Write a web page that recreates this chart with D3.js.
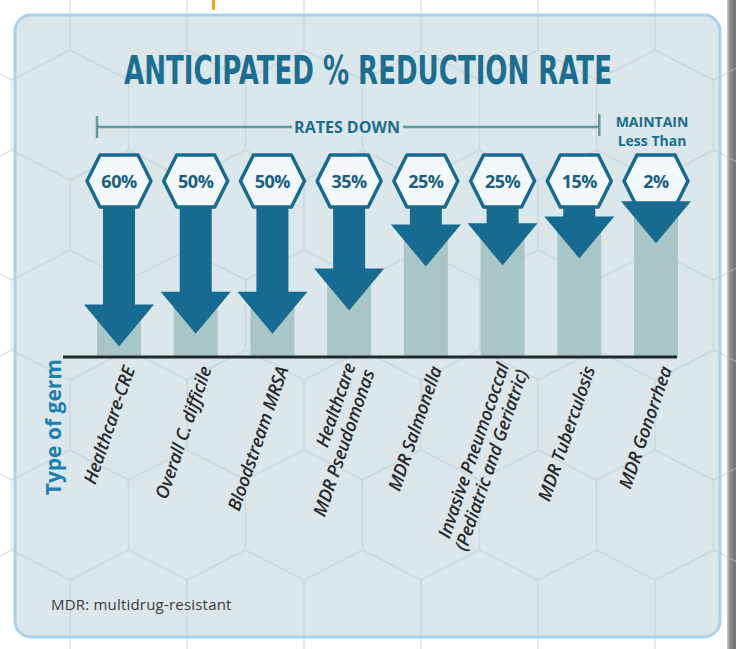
<!DOCTYPE html>
<html>
<head>
<meta charset="utf-8">
<script src="https://cdn.jsdelivr.net/npm/d3@7"></script>
<style>
  html, body { margin: 0; padding: 0; background: #fff; }
  svg { display: block; }
</style>
</head>
<body>
<div id="chart"></div>
<script>
// --- data ---
const germs = [
    "Healthcare-CRE",
    "Overall C. difficile",
    "Bloodstream MRSA",
    "Healthcare|MDR Pseudomonas",
    "MDR Salmonella",
    "Invasive Pneumococcal|(Pediatric and Geriatric)",
    "MDR Tuberculosis",
    "MDR Gonorrhea"
];
const reduction = [60, 50, 50, 35, 25, 25, 15, 2];
// level the arrow tip reaches above the axis (0-100 scale, estimated)
const arrowEnd = [9, 20, 20, 40, 78, 79, 85, 98];
const groupLabels = ["RATES DOWN", "MAINTAIN|Less Than"];
const groupSize = [7, 1];

const width = 736, height = 649;
const baseY = 357;
const hexY = 181;

const blue = "#176b90";

const svg = d3.select("#chart").append("svg")
    .attr("width", width)
    .attr("height", height);

// right edge shadow
const grad = svg.append("defs").append("linearGradient")
    .attr("id", "edge").attr("x1", 0).attr("x2", 1);
grad.append("stop").attr("offset", 0).attr("stop-color", "#d0d0d0");
grad.append("stop").attr("offset", 0.35).attr("stop-color", "#8a8a8a");
grad.append("stop").attr("offset", 1).attr("stop-color", "#707070");
svg.append("rect")
    .attr("x", 727).attr("y", 0)
    .attr("width", 9).attr("height", height)
    .style("fill", "url(#edge)");

// little orange mark at the top
svg.append("rect")
    .attr("x", 212).attr("y", 0)
    .attr("width", 3).attr("height", 10)
    .style("fill", "#f2a81d");

// card
svg.append("rect")
    .attr("x", 15).attr("y", 15)
    .attr("width", 705).attr("height", 622)
    .attr("rx", 16)
    .style("fill", "#dbe7eb")
    .style("stroke", "#a9d1ec")
    .style("stroke-width", 3);

// faint honeycomb behind everything
const hexW = 117, hexS = 70, hexH = 30;
const segs = [];
for (let n = -1; n < 4; n++) {
    const y0 = 80 + 200 * n;
    const y1 = y0 + hexS + hexH;
    for (let k = -1; k < 8; k++) {
        const xa = 11.5 + hexW * k, xb = xa + hexW / 2;
        segs.push([[xa, y0], [xa, y0 + hexS]]);
        segs.push([[xa, y0 + hexS], [xa - hexW / 2, y1]]);
        segs.push([[xa, y0 + hexS], [xa + hexW / 2, y1]]);
        segs.push([[xb, y1], [xb, y1 + hexS]]);
        segs.push([[xb, y1 + hexS], [xb - hexW / 2, y1 + hexS + hexH]]);
        segs.push([[xb, y1 + hexS], [xb + hexW / 2, y1 + hexS + hexH]]);
    }
}
svg.append("g")
    .selectAll("path")
    .data(segs)
    .enter().append("path")
    .attr("d", d => d3.line()(d))
    .style("fill", "none")
    .style("stroke", "#b8cdd6")
    .style("stroke-opacity", 0.5)
    .style("stroke-width", 1.5);

// title - condensed heavy face, squeezed to the width in the picture
const title = svg.append("text")
    .attr("text-anchor", "middle")
    .style("font-family", "'DejaVu Sans Condensed', 'DejaVu Sans', sans-serif")
    .style("font-weight", "bold")
    .style("font-size", "39px")
    .style("fill", "#1b6e8f")
    .text("ANTICIPATED % REDUCTION RATE");
const tw = title.node().getComputedTextLength();
title.attr("transform", `translate(368, 84) scale(${488 / tw}, 1)`);

// scales
const x = d3.scalePoint().domain(germs).range([119, 656]);
const y = d3.scaleLinear().domain([0, 100]).range([baseY, 241]);

const headH = 42, headW = 35, shaftW = 16;

// group bracket: RATES DOWN
const g0 = germs.slice(0, groupSize[0]);
const bx0 = x(g0[0]) - 22, bx1 = x(g0[g0.length - 1]) + 20, by = 127;
const bracket = svg.append("g").style("stroke", "#5e9c9e").style("stroke-width", 2.5);
bracket.append("line").attr("x1", bx0).attr("x2", 292).attr("y1", by).attr("y2", by);
bracket.append("line").attr("x1", 403).attr("x2", bx1).attr("y1", by).attr("y2", by);
bracket.append("line").attr("x1", bx0).attr("x2", bx0).attr("y1", by - 11).attr("y2", by + 11);
bracket.append("line").attr("x1", bx1).attr("x2", bx1).attr("y1", by - 13).attr("y2", by + 9);
svg.append("text")
    .attr("x", 347).attr("y", by + 6)
    .attr("text-anchor", "middle")
    .style("font-family", "'Open Sans', sans-serif")
    .style("font-weight", "bold")
    .style("font-size", "16px")
    .style("fill", "#1b6e8f")
    .text(groupLabels[0]);

// MAINTAIN / Less Than
svg.append("text")
    .attr("x", x(germs[7]) - 4).attr("y", 127)
    .attr("text-anchor", "middle")
    .style("font-family", "'Open Sans', sans-serif")
    .style("font-weight", "bold")
    .style("font-size", "14px")
    .style("fill", "#1b6e8f")
    .selectAll("tspan")
    .data(groupLabels[1].split("|"))
    .enter().append("tspan")
    .attr("x", x(germs[7]) - 4)
    .attr("dy", (d, i) => i ? 19 : 0)
    .text(d => d);

// teal bars behind the arrows
svg.selectAll(".bar")
    .data(germs)
    .enter().append("rect")
    .attr("class", "bar")
    .attr("x", d => x(d) - 22)
    .attr("width", 44)
    .attr("y", (d, i) => y(arrowEnd[i]) - headH + 14)
    .attr("height", (d, i) => baseY - (y(arrowEnd[i]) - headH + 14))
    .style("fill", "#a8c6c5");

// hexagon badges
const hexPts = [[-32, 0], [-19, -26], [19, -26], [32, 0], [19, 26], [-19, 26]];
const badge = svg.selectAll(".badge")
    .data(germs)
    .enter().append("g")
    .attr("class", "badge")
    .attr("transform", d => `translate(${x(d)}, ${hexY})`);
badge.append("path")
    .attr("d", d3.line()(hexPts) + "Z")
    .style("fill", "#f3f8fa")
    .style("stroke", blue)
    .style("stroke-width", 3.5)
    .style("stroke-linejoin", "round");

// arrows
svg.selectAll(".arrow")
    .data(germs)
    .enter().append("path")
    .attr("class", "arrow")
    .attr("d", (d, i) => {
        const cx = x(d), tip = y(arrowEnd[i]), top = tip - headH;
        const s0 = Math.min(hexY + 25, top);
        return d3.line()([
            [cx - shaftW, s0], [cx - shaftW, top], [cx - headW, top],
            [cx, tip], [cx + headW, top], [cx + shaftW, top], [cx + shaftW, s0]
        ]) + "Z";
    })
    .style("fill", blue);

// percentages
badge.append("text")
    .attr("y", 7)
    .attr("text-anchor", "middle")
    .style("font-family", "'Open Sans', sans-serif")
    .style("font-weight", "bold")
    .style("font-size", "18px")
    .style("letter-spacing", "-0.5px")
    .style("fill", "#1a5f80")
    .text((d, i) => `${reduction[i]}%`);

// axis line
svg.append("line")
    .attr("x1", 63).attr("x2", 677)
    .attr("y1", baseY).attr("y2", baseY)
    .style("stroke", "#1e2a2b")
    .style("stroke-width", 3);

// axis title
svg.append("text")
    .attr("transform", `translate(61, 359) rotate(-90)`)
    .attr("text-anchor", "end")
    .style("font-family", "'Open Sans', sans-serif")
    .style("font-weight", "bold")
    .style("font-size", "21px")
    .style("fill", "#1a80b3")
    .text("Type of germ");

// slanted category labels
const lab = svg.selectAll(".label")
    .data(germs)
    .enter().append("g")
    .attr("class", "label")
    .attr("transform", d => `translate(${x(d) + 10}, 367) rotate(-71)`);
lab.each(function (d) {
    const lines = d.split("|");
    d3.select(this).selectAll("text")
        .data(lines)
        .enter().append("text")
        .attr("text-anchor", "end")
        .attr("y", (t, j) => lines.length > 1 ? (j ? 16.5 : -3.5) : 6.5)
        .style("font-family", "'Open Sans', sans-serif")
        .style("font-style", "italic")
        .style("font-weight", 600)
        .style("font-size", "18px")
        .style("letter-spacing", "-0.3px")
        .style("fill", "#2a2a2a")
        .text(t => t);
});

// footnote
svg.append("text")
    .attr("x", 51).attr("y", 610)
    .style("font-family", "'Open Sans', sans-serif")
    .style("font-size", "15px")
    .style("letter-spacing", "0.2px")
    .style("fill", "#3a3a3a")
    .text("MDR: multidrug-resistant");
</script>
</body>
</html>
